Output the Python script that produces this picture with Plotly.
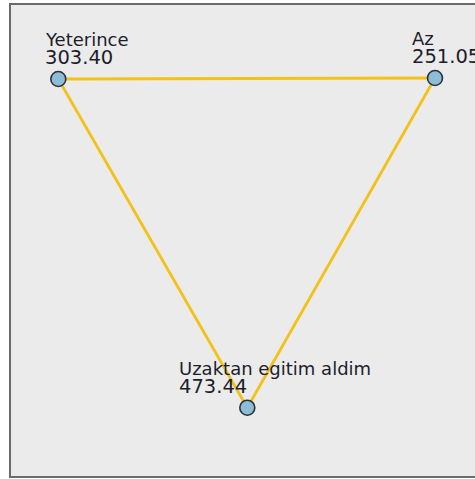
import plotly.graph_objects as go

# Network data
node_names = ["Yeterince", "Az", "Uzaktan egitim aldim"]
node_values = [303.40, 251.05, 473.44]
# node layout coordinates (graph layout space)
node_x = [58.3, 435.0, 247.3]
node_y = [79.0, 78.0, 407.7]
edges = [(0, 1), (0, 2), (1, 2)]

# styles
label_dx = [-14, -24, -69]
EDGE_COLOR = "#f2c21b"
NODE_FILL = "#8dbdd8"
NODE_LINE = "#2e3238"
TEXT_COLOR = "#1d1d2b"
FONT = "DejaVu Sans"

W, H = 475, 479

fig = go.Figure()

for a, b in edges:
    fig.add_trace(go.Scatter(
        x=[node_x[a], node_x[b]], y=[node_y[a], node_y[b]],
        mode="lines", line=dict(color=EDGE_COLOR, width=2.8),
        hoverinfo="skip", showlegend=False))

fig.add_trace(go.Scatter(
    x=node_x, y=node_y, mode="markers",
    marker=dict(size=15, color=NODE_FILL, line=dict(color=NODE_LINE, width=1.6)),
    text=node_names, hoverinfo="text", showlegend=False))

for i, name in enumerate(node_names):
    fig.add_annotation(x=node_x[i], y=node_y[i], text=name, showarrow=False,
                       xanchor="left", yanchor="bottom", xshift=label_dx[i] - 1, yshift=27,
                       font=dict(family=FONT, size=18, color=TEXT_COLOR))
    fig.add_annotation(x=node_x[i], y=node_y[i], text=f"{node_values[i]:.2f}", showarrow=False,
                       xanchor="left", yanchor="bottom", xshift=label_dx[i] - 1, yshift=8,
                       font=dict(family=FONT, size=19.5, color=TEXT_COLOR))

# frame
fig.add_shape(type="rect", xref="x", yref="y", x0=10, x1=495, y0=4, y1=477,
              fillcolor="#ebebeb", line=dict(color="#6b6b6b", width=2), layer="below")

fig.update_layout(
    width=W, height=H, margin=dict(l=0, r=0, t=0, b=0),
    paper_bgcolor="white", plot_bgcolor="white",
    xaxis=dict(range=[0, W], visible=False, fixedrange=True),
    yaxis=dict(range=[H, 0], visible=False, fixedrange=True),
)

fig.write_html("out.html", config={"displayModeBar": False},
               post_script="document.body.style.margin='0';document.body.style.overflow='hidden';")
